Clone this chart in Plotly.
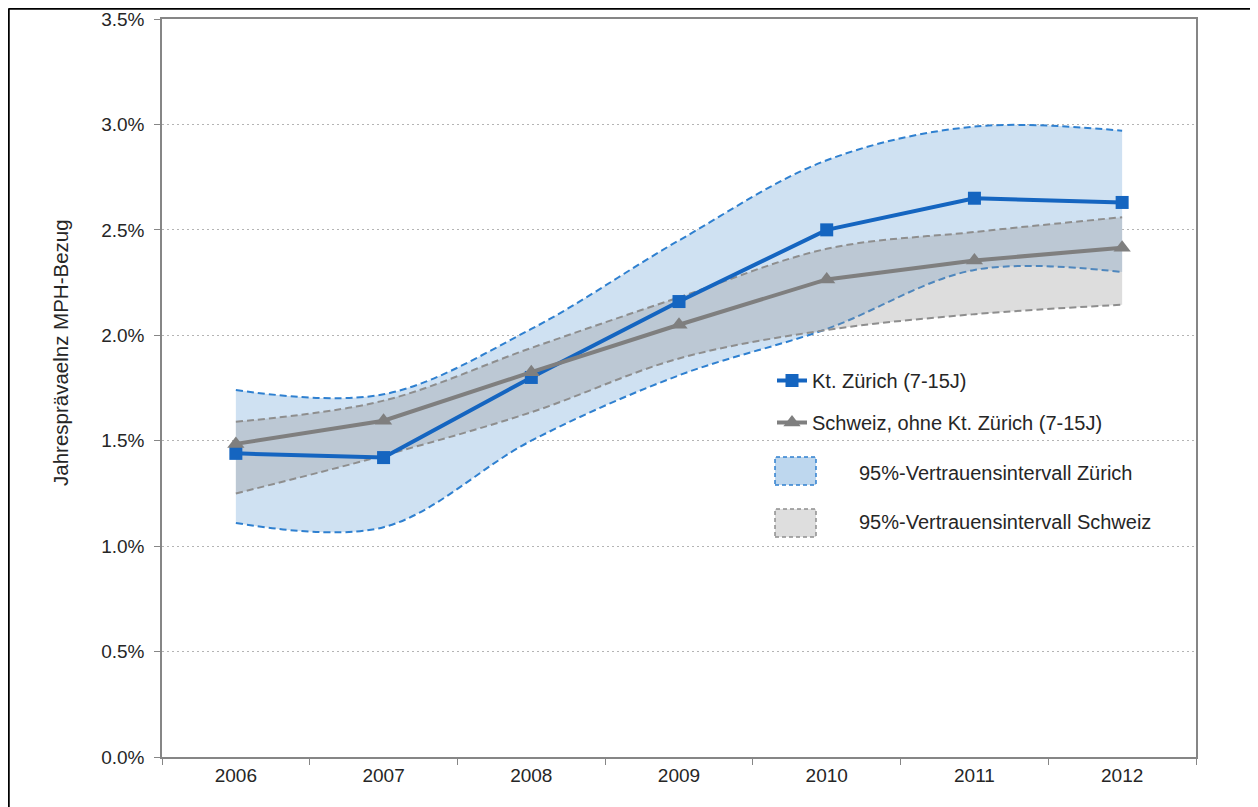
import plotly.graph_objects as go

years = ["2006", "2007", "2008", "2009", "2010", "2011", "2012"]
zh = [1.44, 1.42, 1.80, 2.16, 2.50, 2.65, 2.63]
ch = [1.485, 1.595, 1.825, 2.05, 2.265, 2.355, 2.415]
zh_lo = [1.11, 1.09, 1.50, 1.81, 2.03, 2.31, 2.30]
zh_hi = [1.74, 1.72, 2.03, 2.45, 2.83, 2.99, 2.97]
ch_lo = [1.25, 1.43, 1.635, 1.89, 2.025, 2.10, 2.145]
ch_hi = [1.59, 1.69, 1.94, 2.18, 2.41, 2.49, 2.56]
y_ticks = [0, 0.5, 1.0, 1.5, 2.0, 2.5, 3.0, 3.5]
y_labels = [f"{v:.1f}%" for v in y_ticks]

BLUE = "#1565c0"
BLUE_D = "#2f80d0"
GRAY = "#7f7f7f"
GRAY_D = "#8e8e8e"
FONT = "Liberation Sans, Arial, sans-serif"
TXT = "#262626"

fig = go.Figure()
fig.add_trace(go.Scatter(x=years, y=zh_lo, mode="lines", showlegend=False,
                         line=dict(color=BLUE_D, width=2, dash="7px,4px", shape="spline", smoothing=1.0),
                         hoverinfo="skip"))
fig.add_trace(go.Scatter(x=years, y=zh_hi, mode="lines", showlegend=False, fill="tonexty",
                         fillcolor="rgb(207,225,242)",
                         line=dict(color=BLUE_D, width=2, dash="7px,4px", shape="spline", smoothing=1.0),
                         hoverinfo="skip"))
fig.add_trace(go.Scatter(x=years, y=ch_lo, mode="lines", showlegend=False,
                         line=dict(color=GRAY_D, width=2, dash="7px,4px", shape="spline", smoothing=1.0),
                         hoverinfo="skip"))
fig.add_trace(go.Scatter(x=years, y=ch_hi, mode="lines", showlegend=False, fill="tonexty",
                         fillcolor="rgba(150,150,150,0.32)",
                         line=dict(color=GRAY_D, width=2, dash="7px,4px", shape="spline", smoothing=1.0),
                         hoverinfo="skip"))
fig.add_trace(go.Scatter(x=years, y=zh, mode="lines+markers", name="Kt. Zürich (7-15J)",
                         legendgroup="a", legendrank=1,
                         line=dict(color=BLUE, width=4),
                         marker=dict(symbol="square", size=13, color=BLUE)))
fig.add_trace(go.Scatter(x=years, y=ch, mode="lines+markers", name="Schweiz, ohne Kt. Zürich (7-15J)",
                         legendgroup="b", legendrank=2,
                         line=dict(color=GRAY, width=4),
                         marker=dict(symbol="triangle-up", size=15, color=GRAY)))

# page coordinates of the plot area: x 162..1196, y 19..757
def px2x(px):
    return (px - 162) / 1034.0

def px2y(py):
    return (757 - py) / 738.0

shapes = [
    dict(type="rect", xref="paper", yref="paper", x0=px2x(775), x1=px2x(816), y0=px2y(485), y1=px2y(457),
         fillcolor="rgb(190,215,238)", line=dict(color=BLUE_D, width=1.5, dash="4px,3px")),
    dict(type="rect", xref="paper", yref="paper", x0=px2x(775), x1=px2x(816), y0=px2y(537), y1=px2y(509),
         fillcolor="rgb(222,222,222)", line=dict(color=GRAY_D, width=1.5, dash="4px,3px")),
    dict(type="line", xref="paper", yref="paper", x0=px2x(8.5), x1=px2x(1258), y0=px2y(8.5), y1=px2y(8.5),
         line=dict(color="black", width=2.5)),
    dict(type="line", xref="paper", yref="paper", x0=px2x(8.5), x1=px2x(8.5), y0=px2y(8.5), y1=px2y(807),
         line=dict(color="black", width=2.5)),
]
annotations = [
    dict(xref="paper", yref="paper", x=px2x(857), y=px2y(473), text="95%-Vertrauensintervall Zürich",
         showarrow=False, xanchor="left", yanchor="middle", font=dict(size=20, color=TXT, family=FONT)),
    dict(xref="paper", yref="paper", x=px2x(857), y=px2y(522), text="95%-Vertrauensintervall Schweiz",
         showarrow=False, xanchor="left", yanchor="middle", font=dict(size=20, color=TXT, family=FONT)),
    dict(xref="paper", yref="paper", x=px2x(60), y=px2y(353), text="Jahresprävaelnz MPH-Bezug",
         textangle=-90, showarrow=False, xanchor="center", yanchor="middle",
         font=dict(size=20.5, color=TXT, family=FONT)),
]

fig.update_layout(
    width=1250, height=799,
    margin=dict(l=154, r=62, t=11, b=50, autoexpand=False),
    paper_bgcolor="white", plot_bgcolor="white",
    font=dict(family=FONT, color=TXT, size=19),
    shapes=shapes, annotations=annotations,
    legend=dict(x=px2x(772), y=px2y(361), xanchor="left", yanchor="top",
                bgcolor="rgba(0,0,0,0)", font=dict(size=20, color=TXT, family=FONT),
                tracegroupgap=13, itemwidth=30),
    xaxis=dict(type="category", range=[-0.5, 6.5], tickson="boundaries", ticks="outside", ticklen=6,
               tickcolor="#868686", showline=True, linecolor="#868686", linewidth=1.5, mirror=True,
               showgrid=False, tickfont=dict(size=19, color=TXT), automargin=False),
    yaxis=dict(range=[0, 3.5], tickvals=y_ticks, ticktext=y_labels, ticks="outside",
               ticklen=6, tickcolor="#868686", showline=True, linecolor="#868686", linewidth=1.5,
               mirror=True, showgrid=True, gridcolor="#b4b4b4", gridwidth=1, griddash="2px,3px",
               zeroline=False, tickfont=dict(size=19, color=TXT), ticklabelstandoff=6,
               automargin=False),
)

fig.write_html("out.html")
